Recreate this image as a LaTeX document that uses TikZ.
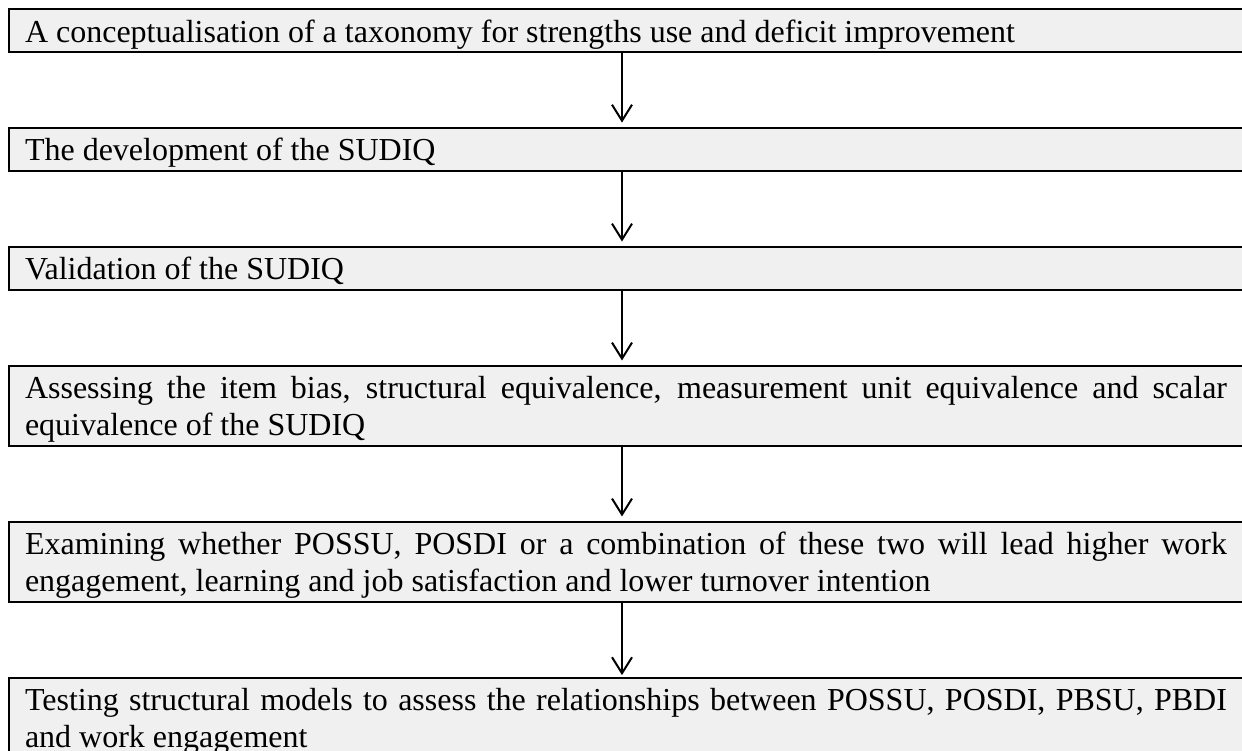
\documentclass[tikz,border=0pt]{standalone}
\usepackage{fontspec}
\setmainfont{Liberation Serif}
\usetikzlibrary{positioning,arrows.meta}
\definecolor{boxgray}{RGB}{240,240,240}
\hyphenpenalty=10000
\exhyphenpenalty=10000
\tolerance=9999
\tikzset{
  stage/.style={draw,fill=boxgray,line width=0.75pt,outer sep=0pt,text width=450.75pt,inner xsep=6pt,inner ysep=0pt,
    text height=12.4pt,text depth=3.9pt,align=justify,font=\fontsize{12}{13.9}\selectfont},
  stagetwo/.style={stage,text depth=17.8pt}
}
\begin{document}
\begin{tikzpicture}[x=0.375pt,y=-0.375pt,node distance=28.3pt,line width=0.75pt,>={Straight Barb[length=6pt,width=7.5pt]}]
  \useasboundingbox (0,0) rectangle (1242,751);
  \clip (0,0) rectangle (1242,751);
  \node[stage,anchor=north west] (s1) at (9,9) {A conceptualisation of a taxonomy for strengths use and deficit improvement};
  \node[stage,below=of s1] (s2) {The development of the SUDIQ};
  \node[stage,below=of s2] (s3) {Validation of the SUDIQ};
  \node[stagetwo,below=of s3] (s4) {Assessing the item bias, structural equivalence, measurement unit equivalence and scalar equivalence of the SUDIQ};
  \node[stagetwo,below=of s4] (s5) {Examining whether POSSU, POSDI or a combination of these two will lead higher work engagement, learning and job satisfaction and lower turnover intention};
  \node[stagetwo,below=of s5] (s6) {Testing structural models to assess the relationships between POSSU, POSDI, PBSU, PBDI and work engagement};
  \coordinate (ax) at (622,0);
  \draw[->,shorten >=2pt] (s1.south -| ax) -- (s2.north -| ax);
  \draw[->,shorten >=2pt] (s2.south -| ax) -- (s3.north -| ax);
  \draw[->,shorten >=2pt] (s3.south -| ax) -- (s4.north -| ax);
  \draw[->,shorten >=2pt] (s4.south -| ax) -- (s5.north -| ax);
  \draw[->,shorten >=1pt] (s5.south -| ax) -- (s6.north -| ax);
\end{tikzpicture}
\end{document}
